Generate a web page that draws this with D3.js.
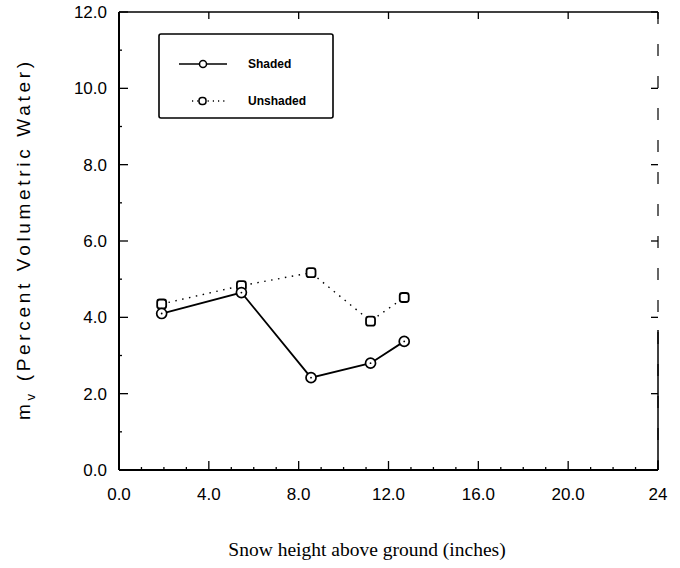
<!DOCTYPE html>
<html><head><meta charset="utf-8">
<script src="https://cdn.jsdelivr.net/npm/d3@7"></script>
<style>body{margin:0;background:#fff}svg{display:block}</style>
</head><body>
<svg id="c" width="680" height="568"></svg>
<script>
const snowHeight = [1.9, 5.45, 8.55, 11.2, 12.7];
const shaded = [4.1, 4.65, 2.42, 2.8, 3.37];
const unshaded = [4.35, 4.83, 5.17, 3.9, 4.52];
const xTicks = [0, 4, 8, 12, 16, 20, 24];
const xTickLabels = ["0.0", "4.0", "8.0", "12.0", "16.0", "20.0", "24"];
const yTicks = [0, 2, 4, 6, 8, 10, 12];
const yTickLabels = ["0.0", "2.0", "4.0", "6.0", "8.0", "10.0", "12.0"];
const seriesNames = ["Shaded", "Unshaded"];

const svg = d3.select("#c");
const L = 119, R = 658, T = 12, B = 470;
const x = d3.scaleLinear().domain([0, 24]).range([L, R]);
const y = d3.scaleLinear().domain([0, 12]).range([B, T]);

// frame
const ax = svg.append("g").attr("stroke", "#000").attr("fill", "none");
ax.append("line").attr("x1", L).attr("x2", L).attr("y1", T).attr("y2", B).attr("stroke-width", 2);
ax.append("line").attr("x1", L).attr("x2", R).attr("y1", B).attr("y2", B).attr("stroke-width", 2);
ax.append("line").attr("x1", L).attr("x2", R).attr("y1", T).attr("y2", T).attr("stroke-width", 1.5);
ax.append("line").attr("x1", R).attr("x2", R).attr("y1", T).attr("y2", B).attr("stroke-width", 1.2)
  .attr("stroke-dasharray", "12,20");
ax.append("line").attr("x1", R).attr("x2", R).attr("y1", 330).attr("y2", B).attr("stroke-width", 1.5);

// ticks (inward)
d3.range(0, 25, 1).forEach(v => {
  const major = v % 4 === 0;
  ax.append("line").attr("x1", x(v)).attr("x2", x(v)).attr("y1", B).attr("y2", B - (major ? 9 : 3)).attr("stroke-width", 1.3);
  if (major) ax.append("line").attr("x1", x(v)).attr("x2", x(v)).attr("y1", T).attr("y2", T + 7).attr("stroke-width", 1.3);
});
d3.range(0, 13, 1).forEach(v => {
  const major = v % 2 === 0;
  ax.append("line").attr("x1", L).attr("x2", L + (major ? 9 : 3)).attr("y1", y(v)).attr("y2", y(v)).attr("stroke-width", 1.3);
  if (major) ax.append("line").attr("x1", R).attr("x2", R - 7).attr("y1", y(v)).attr("y2", y(v)).attr("stroke-width", 1.3);
});

// tick labels
const tl = svg.append("g").attr("font-family", "Liberation Sans, Arial, sans-serif").attr("font-size", 17).attr("fill", "#000");
yTicks.forEach((v, i) => {
  tl.append("text").attr("x", 107).attr("y", y(v) + 6).attr("text-anchor", "end").text(yTickLabels[i]);
});
xTicks.forEach((v, i) => {
  tl.append("text").attr("x", x(v)).attr("y", 500).attr("text-anchor", "middle").text(xTickLabels[i]);
});

// axis titles
svg.append("text").attr("x", 367).attr("y", 556).attr("text-anchor", "middle")
  .attr("font-family", "Liberation Serif, Times New Roman, serif").attr("font-size", 19.5)
  .text("Snow height above ground (inches)");
const yt = svg.append("text").attr("transform", "translate(30,241) rotate(-90)").attr("text-anchor", "middle")
  .attr("font-family", "Liberation Sans, Arial, sans-serif").attr("font-size", 19)
  .attr("textLength", 358).attr("lengthAdjust", "spacing");
yt.append("tspan").text("m");
yt.append("tspan").attr("font-size", 13).attr("dy", 5).text("v");
yt.append("tspan").attr("dy", -5).text(" (Percent Volumetric Water)");

// lines
const line = d3.line().x(d => x(d[0])).y(d => y(d[1]));
const shPts = snowHeight.map((h, i) => [h, shaded[i]]);
const unPts = snowHeight.map((h, i) => [h, unshaded[i]]);
svg.append("path").attr("d", line(unPts)).attr("fill", "none").attr("stroke", "#000")
  .attr("stroke-width", 1.4).attr("stroke-dasharray", "1.5,5.5");
svg.append("path").attr("d", line(shPts)).attr("fill", "none").attr("stroke", "#000").attr("stroke-width", 1.8);

// markers
svg.append("g").selectAll("rect").data(unPts).join("rect")
  .attr("x", d => x(d[0]) - 4.5).attr("y", d => y(d[1]) - 4.5).attr("width", 9).attr("height", 9)
  .attr("rx", 2.5).attr("fill", "#fff").attr("stroke", "#000").attr("stroke-width", 1.8);
svg.append("g").selectAll("circle").data(shPts).join("circle")
  .attr("cx", d => x(d[0])).attr("cy", d => y(d[1])).attr("r", 5)
  .attr("fill", "#fff").attr("stroke", "#000").attr("stroke-width", 1.7);
svg.append("g").selectAll("circle").data(shPts).join("circle")
  .attr("cx", d => x(d[0])).attr("cy", d => y(d[1])).attr("r", 0.9).attr("fill", "#000");

// legend
const lg = svg.append("g");
lg.append("rect").attr("x", 159).attr("y", 34).attr("width", 174).attr("height", 84).attr("rx", 2)
  .attr("fill", "#fff").attr("stroke", "#000").attr("stroke-width", 1.6);
lg.append("line").attr("x1", 179).attr("x2", 227).attr("y1", 64).attr("y2", 64).attr("stroke", "#000").attr("stroke-width", 1.6);
lg.append("circle").attr("cx", 203).attr("cy", 64).attr("r", 3.5).attr("fill", "#fff").attr("stroke", "#000").attr("stroke-width", 1.5);
lg.append("line").attr("x1", 192).attr("x2", 228).attr("y1", 101).attr("y2", 101).attr("stroke", "#000")
  .attr("stroke-width", 1.3).attr("stroke-dasharray", "1.2,4");
lg.append("rect").attr("x", 199).attr("y", 97.5).attr("width", 7).attr("height", 7).attr("rx", 3)
  .attr("fill", "#fff").attr("stroke", "#000").attr("stroke-width", 1.5);
const lt = lg.append("g").attr("font-family", "Liberation Sans Narrow, Liberation Sans, Arial, sans-serif")
  .attr("font-size", 12).attr("font-weight", "bold");
lt.append("text").attr("x", 248).attr("y", 68).text(seriesNames[0]);
lt.append("text").attr("x", 248).attr("y", 105).text(seriesNames[1]);
</script>
</body></html>
